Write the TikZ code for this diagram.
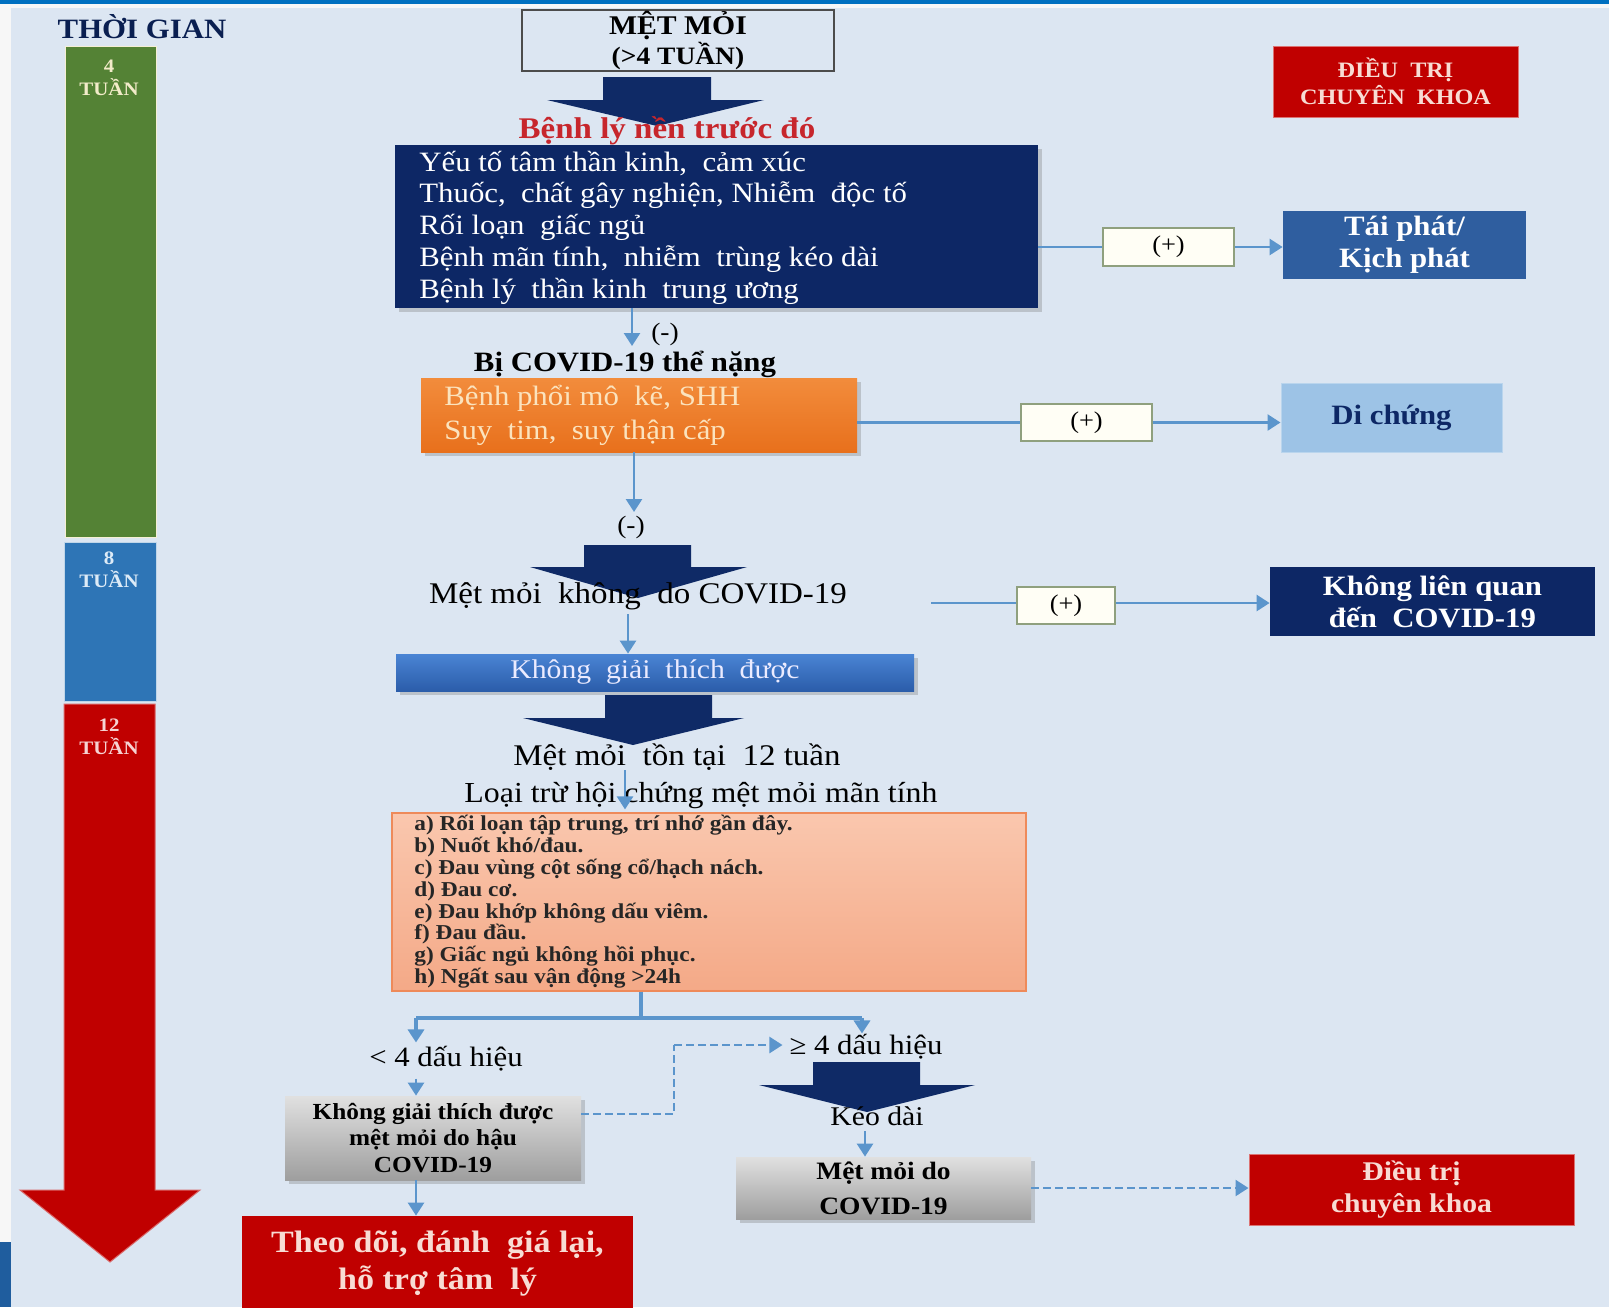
\documentclass[tikz,border=0pt]{standalone}
\usepackage{fontspec}
\setmainfont{Liberation Serif}[FakeStretch=1.1]
\usetikzlibrary{arrows.meta,shadows,calc}

\definecolor{bgc}{HTML}{DCE6F2}
\definecolor{topblue}{HTML}{0070C0}
\definecolor{cornerblue}{HTML}{1F5D9E}
\definecolor{navyc}{HTML}{0D2765}
\definecolor{arrnavy}{HTML}{0F2A66}
\definecolor{linec}{HTML}{5B95CC}
\definecolor{barg}{HTML}{548235}
\definecolor{barb}{HTML}{2E75B6}
\definecolor{redc}{HTML}{C00000}
\definecolor{taiphatc}{HTML}{2F5E9F}
\definecolor{dichungc}{HTML}{9DC3E6}
\definecolor{redtext}{HTML}{C7262C}
\definecolor{cream}{HTML}{FBE3BE}
\definecolor{barlabg}{HTML}{F2EBC9}
\definecolor{barlabb}{HTML}{DDEBF7}
\definecolor{barlabr}{HTML}{F6D3D3}
\definecolor{pinktext}{HTML}{F8DCD4}
\definecolor{plusedge}{HTML}{8FA07E}
\definecolor{orangetop}{HTML}{F28C3C}
\definecolor{orangebot}{HTML}{E8701C}
\definecolor{salmontop}{HTML}{FAC7AE}
\definecolor{salmonbot}{HTML}{F4A987}
\definecolor{salmonedge}{HTML}{EE8A5A}
\definecolor{kgtdtop}{HTML}{4A84D4}
\definecolor{kgtdbot}{HTML}{2B5DAA}

\newcommand{\fs}[2]{\fontsize{#1}{#2}\selectfont}

\tikzset{
  conn/.style={draw=linec, line width=1.3pt},
  arr/.style={conn, -{Triangle[length=6.5pt,width=8pt]}},
  dasharr/.style={draw=linec, line width=1.2pt, dash pattern=on 4pt off 2pt},
  bigarrow/.style={fill=arrnavy},
  plusbox/.style={draw=plusedge, line width=0.7pt, fill=white!96!yellow, inner sep=0pt, font=\fs{12}{14}},
  sh/.style={drop shadow={opacity=0.35, shadow xshift=2pt, shadow yshift=-2pt}},
  barlabel/.style={font=\bfseries\fs{9.5}{11.5}, align=center},
}

\begin{document}
\begin{tikzpicture}[x=0.5pt,y=-0.5pt]
\useasboundingbox (0,0) rectangle (1609,1307);

% page background and edges
\fill[white!94!gray] (0,0) rectangle (1609,1307);
\fill[bgc] (11,8) rectangle (1609,1307);
\fill[topblue] (0,0) rectangle (1609,4);
\fill[cornerblue] (0,1242) rectangle (11,1307);

% time bar on the left
\node[font=\bfseries\fs{14}{16}, text=navyc!80!black] (thoigian) at (142,27) {THỜI GIAN};
\fill[barg, draw=barlabg!80!white, line width=0.5pt] (65,46) rectangle (156,537);
\fill[barb, draw=white!70!barb, line width=0.5pt] (64,542) rectangle (156,701);
\fill[redc, draw=redc!60!white, line width=0.5pt]
  (64,704) -- (155,704) -- (155,1190) -- (200,1190) -- (110,1262) -- (20,1190) -- (64,1190) -- cycle;
\node[barlabel, text=barlabg] (w4) at (109,78) {4\\TUẦN};
\node[barlabel, text=barlabb] (w8) at (109,570) {8\\TUẦN};
\node[barlabel, text=barlabr] (w12) at (109,737) {12\\TUẦN};

% block arrows of the main column
\fill[bigarrow] (603,77) -- (711,77) -- (711,100) -- (764,100) -- (657,126) -- (547,100) -- (603,100) -- cycle;
\fill[bigarrow] (584,545) -- (691,545) -- (691,567) -- (747,567) -- (638,598) -- (530,567) -- (584,567) -- cycle;
\fill[bigarrow] (605,695) -- (712,695) -- (712,718) -- (744,718) -- (633,745) -- (523,718) -- (605,718) -- cycle;
\fill[bigarrow] (813,1062) -- (920,1062) -- (920,1085) -- (975,1085) -- (867,1112) -- (759,1085) -- (813,1085) -- cycle;

% start
\node[draw=black!70, line width=0.6pt, minimum width=156pt, minimum height=30.5pt, inner sep=0pt,
      font=\bfseries\fs{13.5}{15}, align=center] (metmoi) at (678,40.5) {MỆT MỎI\\{\fs{12.5}{14}(>4 TUẦN)}};

\node[font=\bfseries\fs{15}{17}, text=redtext] (benhly) at (667,131) {Bệnh lý nền trước đó};

% underlying conditions
\node[fill=navyc, sh, minimum width=321.5pt, minimum height=81.5pt] (navy) at (716.5,226.5) {};
\node[anchor=west, align=left, text=white, font=\fs{14}{15.9}, inner sep=0pt] (navytext) at (419,227.5)
  {Yếu tố tâm thần kinh,\ \ cảm xúc\\
   Thuốc,\ \ chất gây nghiện,\ Nhiễm\ \ độc tố\\
   Rối loạn\ \ giấc ngủ\\
   Bệnh mãn tính,\ \ nhiễm\ \ trùng kéo dài\\
   Bệnh lý\ \ thần kinh\ \ trung ương};

\node[plusbox, minimum width=65.5pt, minimum height=19pt] (plus1) at (1168.5,247) {(+)};
\node[fill=taiphatc, minimum width=121.5pt, minimum height=34pt, inner sep=0pt,
      font=\bfseries\fs{14}{16}, text=white, align=center] (taiphat) at (1404.5,245) {Tái phát/\\Kịch phát};

\node[fill=redc, draw=redc!55!white, line width=0.5pt, minimum width=122.5pt, minimum height=35.5pt, inner sep=0pt,
      font=\bfseries\fs{11}{13.5}, text=pinktext, align=center] (dieutritop) at (1395.5,81.5) {ĐIỀU\ \ TRỊ\\CHUYÊN\ \ KHOA};

% severe COVID-19
\coordinate (a1) at (632,346);
\node[font=\fs{12.5}{14}] (minus1) at (665,334) {(-)};
\node[font=\bfseries\fs{14}{16}] (covid) at (625,364) {Bị COVID-19 thể nặng};
\node[top color=orangetop, bottom color=orangebot, sh, minimum width=218pt, minimum height=37pt] (orange) at (639,415) {};
\node[anchor=west, align=left, text=cream, font=\fs{14}{17}, inner sep=0pt] (orangetext) at (444,415)
  {Bệnh phổi mô\ \ kẽ,\ SHH\\Suy\ \ tim,\ \ suy\ thận cấp};

\node[plusbox, minimum width=65.5pt, minimum height=18.5pt] (plus2) at (1086.5,422.5) {(+)};
\node[fill=dichungc, draw=dichungc!70!white, line width=0.5pt, minimum width=110.5pt, minimum height=34.5pt, inner sep=0pt,
      font=\bfseries\fs{14}{16}, text=navyc] (dichung) at (1391.5,417.5) {Di chứng};

\coordinate (a2) at (634,512);
\node[font=\fs{12.5}{14}] (minus2) at (631,527) {(-)};

% fatigue not caused by COVID-19
\node[font=\fs{15}{17}] (metmoi2) at (638,596) {Mệt mỏi\ \ không\ \ do COVID-19};
\coordinate (l3) at (931,603);
\node[plusbox, minimum width=49pt, minimum height=18.5pt] (plus3) at (1066,605.5) {(+)};
\node[fill=navyc, minimum width=162.5pt, minimum height=34.5pt, inner sep=0pt,
      font=\bfseries\fs{14}{16}, text=white, align=center] (khonglq) at (1432.5,601.5) {Không liên quan\\đến\ \ COVID-19};

\coordinate (a3) at (628,614);
\node[top color=kgtdtop, bottom color=kgtdbot, sh, minimum width=259pt, minimum height=18.5pt, inner sep=0pt,
      font=\fs{13.5}{15}, text=white!92!blue] (kgtd) at (655,672.5) {Không\ \ giải\ \ thích\ \ được};

% 12 weeks
\node[font=\fs{15}{17}] (tontai) at (677,757) {Mệt mỏi\ \ tồn tại\ \ 12 tuần};
\coordinate (a4) at (625,770);
\node[font=\fs{14.5}{16}] (loaitru) at (701,796) {Loại trừ hội\ chứng mệt mỏi mãn tính};

\node[top color=salmontop, bottom color=salmonbot, draw=salmonedge, line width=0.6pt,
      minimum width=317pt, minimum height=89pt] (criteria) at (709,902) {};
\node[anchor=north west, align=left, font=\bfseries\fs{10.6}{10.9}, inner sep=0pt, text=black!85] (criteriatext) at (414,815)
  {a) Rối loạn tập trung, trí nhớ gần đây.\\
   b) Nuốt khó/đau.\\
   c) Đau vùng cột sống cổ/hạch nách.\\
   d) Đau cơ.\\
   e) Đau khớp không dấu viêm.\\
   f) Đau đầu.\\
   g) Giấc ngủ không hồi phục.\\
   h) Ngất sau vận động >24h};

% split by number of signs
\coordinate (sp) at (641,1018);
\coordinate (spl) at (416,1018);
\coordinate (spr) at (862,1018);
\coordinate (dturn) at (674,1045);
\node[font=\fs{14}{16}] (lt4) at (446,1059) {< 4\ dấu hiệu};
\node[font=\fs{14}{16}] (ge4) at (866,1047) {≥ 4\ dấu hiệu};

\node[top color=black!12, bottom color=black!38, sh, minimum width=148pt, minimum height=42pt, inner sep=0pt,
      font=\bfseries\fs{11.5}{13.2}, align=center] (gray1) at (433,1138) {Không giải thích được\\mệt mỏi do hậu\\COVID-19};
\node[fill=redc, minimum width=195.5pt, minimum height=48pt, inner sep=0pt,
      font=\bfseries\fs{15.5}{18.5}, text=pinktext, align=center] (theodoi) at (437.5,1264) {Theo\ dõi,\ đánh\ \ giá\ lại,\\hỗ\ trợ\ tâm\ \ lý};

\node[font=\fs{13.5}{15}] (keodai) at (877,1116) {Kéo dài};
\node[top color=black!12, bottom color=black!38, sh, minimum width=147.5pt, minimum height=31pt, inner sep=0pt,
      font=\bfseries\fs{12.5}{17.5}, align=center] (gray2) at (883.5,1188) {Mệt mỏi do\\COVID-19};
\node[fill=redc, draw=redc!55!white, line width=0.5pt, minimum width=162.5pt, minimum height=35.5pt, inner sep=0pt,
      font=\bfseries\fs{13.5}{16}, text=pinktext, align=center] (dieutri2) at (1411.5,1189.5) {Điều trị\\chuyên khoa};

% connectors
\draw[conn] (plus1.west -| navy.east) -- (plus1.west);
\draw[arr] (plus1.east) -- (plus1.east -| taiphat.west);
\draw[arr] (a1 |- navy.south) -- (a1);

\draw[conn] (plus2.west -| orange.east) -- (plus2.west);
\draw[arr] (plus2.east) -- (plus2.east -| dichung.west);
\draw[arr] (a2 |- orange.south) -- (a2);

\draw[conn] (l3) -- (l3 -| plus3.west);
\draw[arr] (plus3.east |- l3) -- (l3 -| khonglq.west);
\draw[arr] (a3) -- (a3 |- kgtd.north);

\draw[arr] (a4) -- ($(a4 |- criteria.north)+(0,-3)$);

\draw[draw=linec, line width=2.4pt] (sp |- criteria.south) -- (sp);
\draw[draw=linec, line width=2.4pt] (spl) -- (spr);
\draw[arr, line width=2pt] (spl) -- ($(spl |- lt4.north)+(0,3)$);
\draw[arr, line width=2pt] (spr) -- ($(spr |- ge4.north)+(0,6)$);

\draw[arr] (spl |- lt4.south) -- (spl |- gray1.north);
\draw[arr] (spl |- gray1.south) -- (spl |- theodoi.north);
\draw[dasharr] (gray1.east |- 0,1114) -- (dturn |- 0,1114) -- (dturn);
\draw[dasharr, -{Triangle[length=6.5pt,width=8pt]}] (dturn) -- (dturn -| ge4.west);

\draw[arr] (865,1131) -- (865,1131 |- gray2.north);
\draw[dasharr, -{Triangle[length=6.5pt,width=8pt]}] (gray2.east) -- (gray2.east -| dieutri2.west);

\end{tikzpicture}
\end{document}
